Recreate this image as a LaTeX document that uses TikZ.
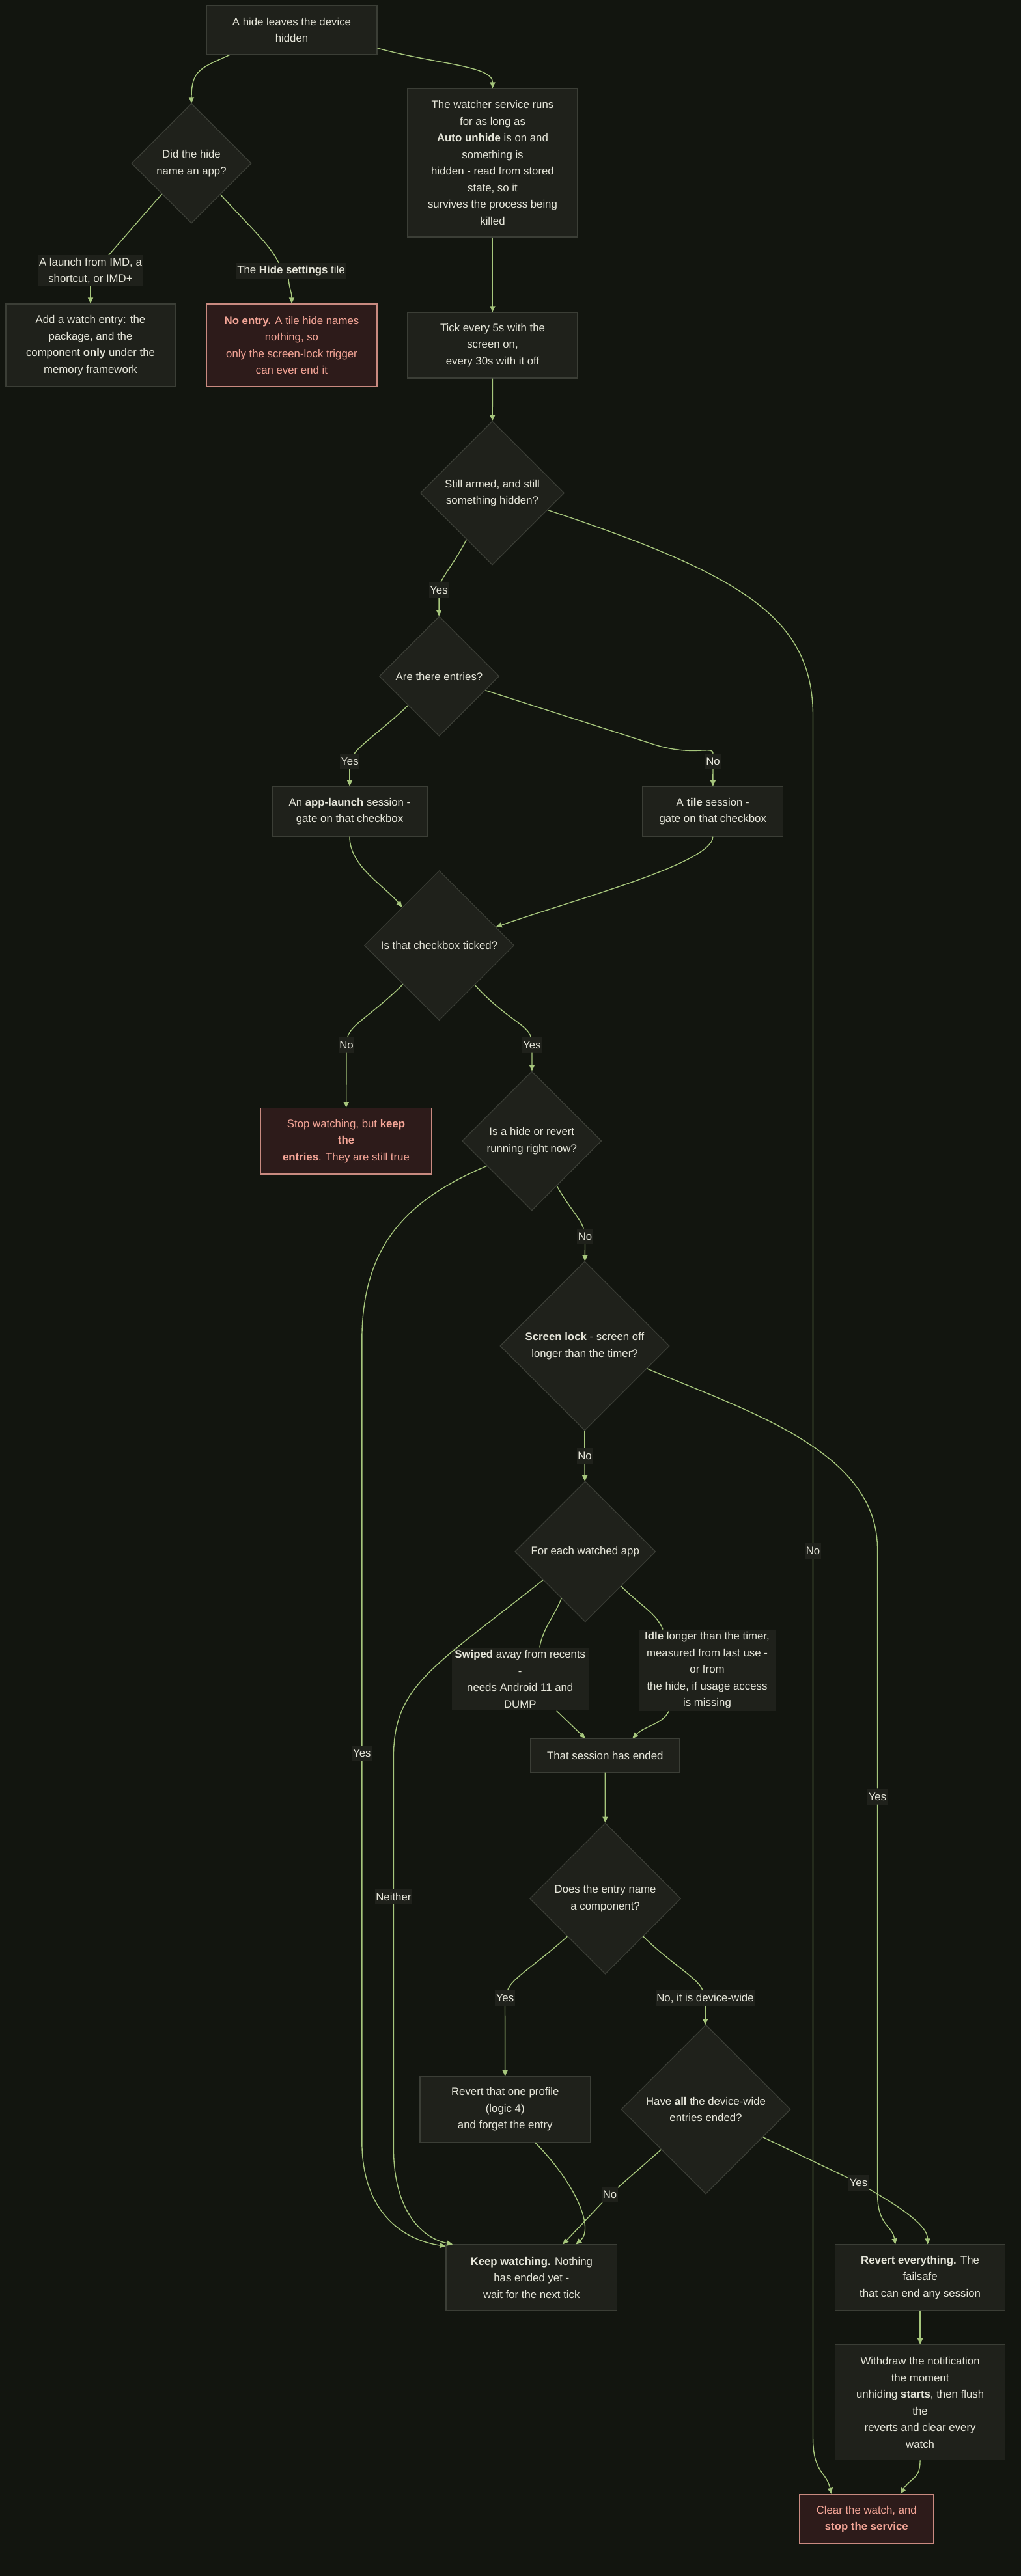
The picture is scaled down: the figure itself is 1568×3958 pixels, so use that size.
\documentclass[tikz,border=0pt]{standalone}
\usepackage{fontspec}
\setmainfont{Liberation Sans}
\usetikzlibrary{shapes.geometric}
\usetikzlibrary{arrows.meta}

\definecolor{bgc}{HTML}{12150F}
\definecolor{nodec}{HTML}{1F211B}
\definecolor{bordc}{HTML}{3B3E36}
\definecolor{txtc}{HTML}{E6E6DA}
\definecolor{edgec}{HTML}{A6C67C}
\definecolor{redfill}{HTML}{2D1B1A}
\definecolor{redbord}{HTML}{C98A80}
\definecolor{redtxt}{HTML}{F4A597}

\begin{document}
\begin{tikzpicture}[x=1pt,y=-1pt,font=\fontsize{16.8}{25.5}\selectfont,
  box/.style={rectangle, draw=bordc, fill=nodec, text=txtc, align=center, inner sep=0pt, line width=1.2pt},
  redbox/.style={box, draw=redbord, fill=redfill, text=redtxt},
  dec/.style={diamond, aspect=1, draw=bordc, fill=nodec, text=txtc, align=center, inner sep=0pt, line width=1.2pt},
  lbl/.style={rectangle, fill=nodec, text=txtc, align=center, inner xsep=1.5pt, inner ysep=4pt, minimum height=24pt},
  edge/.style={draw=edgec, line width=1.4pt},
  arr/.style={edge, -{Triangle[length=9pt,width=8pt]}}]

\fill[bgc] (0,0) rectangle (1568,3958);

% top part
\node[box, minimum width=262pt, minimum height=76pt]  (start)   at (448,46)    {A hide leaves the device\\hidden} ;
\node[dec, minimum size=184pt]                        (dApp)    at (294,251)   {Did the hide\\name an app?} ;
\node[lbl, minimum width=156pt]                       (lblLaunch) at (139,416) {A launch from IMD, a\\shortcut, or IMD+} ;
\node[lbl, minimum width=164pt]                       (lblTile) at (447,416)   {The \textbf{Hide settings} tile} ;
\node[box, minimum width=260pt, minimum height=127pt] (addEntry) at (139,530.5) {Add a watch entry: the\\package, and the\\component \textbf{only} under the\\memory framework} ;
\node[redbox, minimum width=262pt, minimum height=127pt] (noEntry) at (448,530.5) {\textbf{No entry.} A tile hide names\\nothing, so\\only the screen-lock trigger\\can ever end it} ;
\node[box, minimum width=261pt, minimum height=228pt] (watcher) at (756.5,250) {The watcher service runs\\for as long as\\\textbf{Auto unhide} is on and\\something is\\hidden - read from stored\\state, so it\\survives the process being\\killed} ;
\node[box, minimum width=261pt, minimum height=101pt] (tick)    at (756.5,530.5) {Tick every 5s with the\\screen on,\\every 30s with it off} ;
\node[dec, minimum size=221pt]                        (dArmed)  at (756,757.5) {Still armed, and still\\something hidden?} ;

% checkbox part
\node[dec, minimum size=184pt]                        (dEntries) at (674.5,1039) {Are there entries?} ;
\node[box, minimum width=238pt, minimum height=76.5pt] (appLaunch) at (537,1246.75) {An \textbf{app-launch} session -\\gate on that checkbox} ;
\node[box, minimum width=215.5pt, minimum height=76.5pt] (tileSess) at (1094.75,1246.75) {A \textbf{tile} session -\\gate on that checkbox} ;
\node[dec, minimum size=230pt]                        (dTicked) at (674.5,1452.6) {Is that checkbox ticked?} ;
\node[redbox, minimum width=261.7pt, minimum height=101.4pt] (stopWatch) at (531.5,1753.3) {Stop watching, but \textbf{keep}\\\textbf{the}\\\textbf{entries}. They are still true} ;
\node[dec, minimum size=214pt]                        (dRunning) at (816.8,1753) {Is a hide or revert\\running right now?} ;
\node[dec, minimum size=260pt]                        (dLock)   at (898,2068)  {\textbf{Screen lock} - screen off\\longer than the timer?} ;
\node[dec, minimum size=216pt]                        (dEach)   at (898.8,2384) {For each watched app} ;
\node[lbl, minimum width=209.5pt]                     (lblSwiped) at (798.75,2580) {\textbf{Swiped} away from recents\\-\\needs Android 11 and\\DUMP} ;
\node[lbl, minimum width=210pt]                       (lblIdle) at (1086,2566.5) {\textbf{Idle} longer than the timer,\\measured from last use -\\or from\\the hide, if usage access\\is missing} ;
\node[box, minimum width=229.4pt, minimum height=51.5pt] (ended) at (929.3,2697.25) {That session has ended} ;
\node[dec, minimum size=232pt]                        (dComp)   at (929.6,2917) {Does the entry name\\a component?} ;
\node[box, minimum width=261.5pt, minimum height=101pt] (revertOne) at (775.75,3241) {Revert that one profile\\(logic 4)\\and forget the entry} ;
\node[dec, minimum size=260pt]                        (dAll)    at (1084,3241) {Have \textbf{all} the device-wide\\entries ended?} ;

% end boxes
\node[box, minimum width=262.6pt, minimum height=101pt] (keep)  at (816.3,3499.5) {\textbf{Keep watching.} Nothing\\has ended yet -\\wait for the next tick} ;
\node[box, minimum width=261pt, minimum height=101pt] (revertAll) at (1413.1,3499.5) {\textbf{Revert everything.} The\\failsafe\\that can end any session} ;
\node[box, minimum width=261pt, minimum height=177pt] (withdraw) at (1413.1,3691.2) {Withdraw the notification\\the moment\\unhiding \textbf{starts}, then flush\\the\\reverts and clear every\\watch} ;
\node[redbox, minimum width=205.6pt, minimum height=76pt] (clear) at (1330.8,3870.4) {Clear the watch, and\\\textbf{stop the service}} ;

% edge labels
\node[lbl] (lblYesA)    at (674,907)      {Yes} ;
\node[lbl] (lblYesB)    at (537,1170)     {Yes} ;
\node[lbl] (lblNoB)     at (1095,1170)    {No} ;
\node[lbl] (lblNoC)     at (532,1605.5)   {No} ;
\node[lbl] (lblYesC)    at (817,1605.5)   {Yes} ;
\node[lbl] (lblNoD)     at (898.5,1900)   {No} ;
\node[lbl] (lblNoE)     at (898,2237)     {No} ;
\node[lbl] (lblNoH)     at (1248.5,2383)  {No} ;
\node[lbl] (lblYesH)    at (1347.5,2760.5) {Yes} ;
\node[lbl] (lblYesI)    at (555.8,2694)   {Yes} ;
\node[lbl] (lblNeither) at (604.4,2914)   {Neither} ;
\node[lbl] (lblYesF)    at (775.5,3070)   {Yes} ;
\node[lbl] (lblNoF)     at (1083,3070)    {No, it is device-wide} ;
\node[lbl] (lblNoG)     at (936.5,3372)   {No} ;
\node[lbl] (lblYesG)    at (1318.5,3354)  {Yes} ;

% connectors
\draw[arr] (start.202) .. controls +(-45,20) and +(0,-50) .. (dApp.north) ;
\draw[arr] (start.348) .. controls +(90,25) and +(0,-35) .. (watcher.north) ;
\draw[edge] (dApp.226) -- ([xshift=28pt]lblLaunch.north) ;
\draw[arr] (lblLaunch.south) -- (addEntry.north) ;
\draw[edge] (dApp.313) .. controls +(45,50) and +(-15,-30) .. ([xshift=-19pt]lblTile.north) ;
\draw[arr] ([xshift=-4pt]lblTile.south) .. controls +(2,20) and +(0,-20) .. (noEntry.north) ;
\draw[arr] (watcher) -- (tick) ;
\draw[arr] (tick) -- (dArmed) ;

\draw[edge] (dArmed.241) .. controls +(-15,30) and +(5,-20) .. (lblYesA) ;
\draw[arr] (lblYesA) -- (dEntries) ;
\draw[edge] (dArmed.343) .. controls +(300,100) and +(0,-150) .. (1248.5,1100) -- (lblNoH) ;
\draw[arr] (lblNoH) -- (1248.5,3745) .. controls +(0,55) and +(-8,-35) .. ([xshift=-54pt]clear.north) ;

\draw[edge] (dEntries.223) .. controls +(-30,30) and +(15,-25) .. (lblYesB) ;
\draw[arr] (lblYesB) -- (appLaunch) ;
\draw[edge] (dEntries.343) -- (1005,1144) .. controls +(60,19) and +(0,-25) .. (lblNoB) ;
\draw[arr] (lblNoB) -- (tileSess) ;
\draw[arr] (appLaunch.south) .. controls +(0,45) and +(-30,-35) .. (dTicked.134) ;
\draw[arr] (tileSess.south) .. controls +(0,40) and +(130,-45) .. (dTicked.18) ;

\draw[edge] (dTicked.227) .. controls +(-45,45) and +(5,-30) .. (lblNoC) ;
\draw[arr] (lblNoC) -- (stopWatch) ;
\draw[edge] (dTicked.312) .. controls +(45,50) and +(-5,-30) .. (lblYesC) ;
\draw[arr] (lblYesC) -- (dRunning) ;

\draw[edge] (dRunning.209) .. controls +(-130,55) and +(0,-140) .. (555.8,2060) -- (lblYesI) ;
\draw[arr] (lblYesI) -- (555.8,3290) .. controls +(0,110) and +(-65,-10) .. ([yshift=-3pt]keep.north west) ;
\draw[edge] (dRunning.299) .. controls +(20,35) and +(-5,-25) .. (lblNoD) ;
\draw[arr] (lblNoD) -- (dLock) ;

\draw[edge] (dLock) -- (lblNoE) ;
\draw[arr] (lblNoE) -- (dEach) ;
\draw[edge] (dLock.340) .. controls +(156,66) and +(0,-150) .. (1347.5,2380) -- (lblYesH) ;
\draw[arr] (lblYesH) -- (1347.5,3370) .. controls +(0,50) and +(-5,-30) .. ([xshift=-38pt]revertAll.north) ;

\draw[edge] (dEach.214) .. controls +(-170,135) and +(0,-110) .. (604.4,2700) -- (lblNeither) ;
\draw[arr] (lblNeither) -- (604.4,3300) .. controls +(0,100) and +(-45,-9) .. ([xshift=-121pt]keep.north) ;
\draw[edge] (dEach.243) .. controls +(-12,30) and +(5,-30) .. ([xshift=30pt]lblSwiped.north) ;
\draw[arr] ([xshift=56pt]lblSwiped.south) -- ([xshift=-30.5pt]ended.north) ;
\draw[edge] (dEach.316) .. controls +(30,30) and +(-10,-25) .. ([xshift=-68pt]lblIdle.north) ;
\draw[arr] ([xshift=-59pt]lblIdle.south) .. controls +(-10,20) and +(20,-20) .. ([xshift=42pt]ended.north) ;
\draw[arr] (ended) -- (dComp) ;

\draw[edge] (dComp.225) .. controls +(-50,45) and +(10,-30) .. (lblYesF) ;
\draw[arr] (lblYesF) -- (revertOne) ;
\draw[edge] (dComp.315) .. controls +(40,40) and +(-10,-30) .. (lblNoF) ;
\draw[arr] (lblNoF) -- (dAll) ;
\draw[arr] ([xshift=46pt]revertOne.south) .. controls +(60,60) and +(30,-25) .. ([xshift=68pt]keep.north) ;
\draw[edge] (dAll.222) -- (lblNoG) ;
\draw[arr] (lblNoG) -- ([xshift=48pt]keep.north) ;
\draw[edge] (dAll.334) -- (lblYesG) ;
\draw[arr] (lblYesG) .. controls +(60,35) and +(0,-30) .. ([xshift=11.5pt]revertAll.north) ;

\draw[arr] (revertAll) -- (withdraw) ;
\draw[arr] (withdraw.south) .. controls +(0,30) and +(15,-25) .. ([xshift=52pt]clear.north) ;

\end{tikzpicture}
\end{document}
